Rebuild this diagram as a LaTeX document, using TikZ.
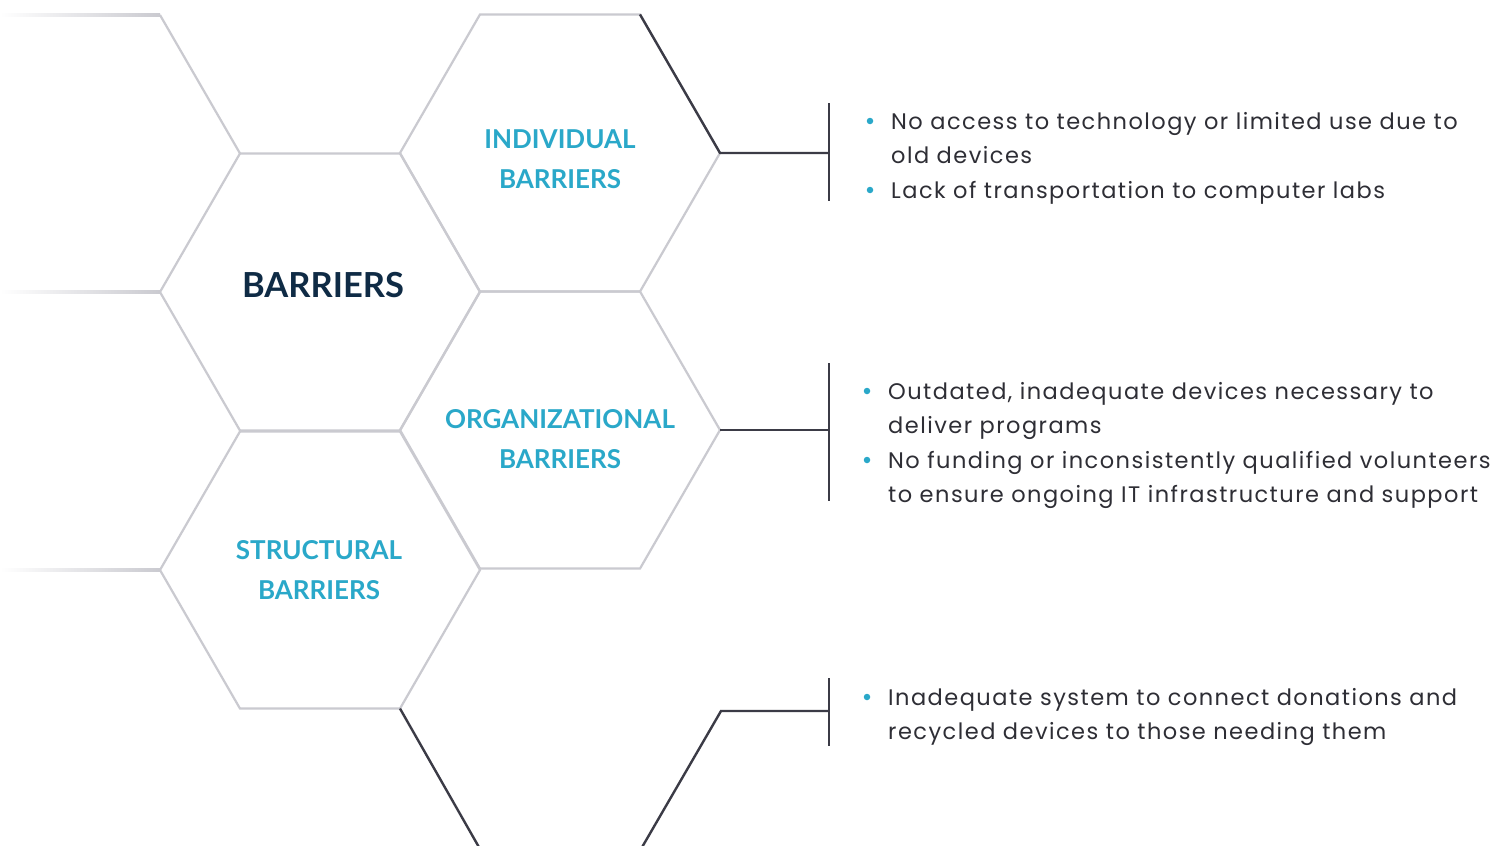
\documentclass[tikz,border=0pt]{standalone}
\usepackage{fontspec}
\setmainfont{Poppins}[LetterSpace=6.5]
\newfontfamily\headfont{Lato}
\usetikzlibrary{shapes.geometric}
\definecolor{hexgray}{HTML}{CACAD0}
\definecolor{darkline}{HTML}{3B3B46}
\definecolor{headteal}{HTML}{2AA8C9}
\definecolor{navy}{HTML}{0F2B45}
\definecolor{bodytext}{HTML}{2E2E35}
\begin{document}
\begin{tikzpicture}[x=1pt,y=-1pt,
  hexcell/.style={regular polygon, regular polygon sides=6, minimum size=320pt,
    inner sep=0pt, outer sep=0pt, draw=hexgray, line width=2.2pt},
  darkedge/.style={draw=darkline, line width=2.4pt, line join=miter},
  bracketline/.style={draw=darkline, line width=2.2pt},
  headtext/.style={font=\headfont\bfseries\fontsize{26}{30}\selectfont, text=headteal, inner sep=0pt},
  maintext/.style={font=\headfont\bfseries\fontsize{34.5}{38}\selectfont, text=navy, inner sep=0pt},
  bodyline/.style={anchor=base west, inner sep=0pt, text=bodytext, font=\fontsize{22.5}{25}\selectfont},
  bulletdot/.style={circle, fill=headteal, inner sep=0pt, minimum size=6.5pt}]
\useasboundingbox (0,0) rectangle (1505,846);
\fill[white] (0,0) rectangle (1505,846);

% fading edges on the left
\shade[left color=white, right color=hexgray] (0,13.9) rectangle (160,16.1);
\shade[left color=white, right color=hexgray] (0,290.9) rectangle (160,293.1);
\shade[left color=white, right color=hexgray] (0,568.9) rectangle (160,571.1);

% hexagon cells
\node[hexcell] (indiv) at (560,153) {};
\node[hexcell] (barr)  at (320,292) {};
\node[hexcell] (org)   at (560,430) {};
\node[hexcell] (struct) at (320,570) {};
\coordinate (tl) at (160,15);
\draw[draw=hexgray, line width=2.2pt] (tl) -- (barr.120);

% dark connectors
\coordinate (br1) at (829,153);
\coordinate (br2) at (829,430);
\coordinate (br3) at (829,711);
\coordinate (lowL) at (480,849);
\coordinate (lowR) at (641,849);
\coordinate (lowV) at (721,711);
\draw[darkedge] (indiv.60) -- (indiv.0) -- (br1);
\draw[darkedge] (org.0) -- (br2);
\draw[darkedge] (struct.-60) -- (lowL);
\draw[darkedge] (lowR) -- (lowV) -- (br3);

% brackets
\draw[bracketline] (829,103) -- (829,201);
\draw[bracketline] (829,363) -- (829,501);
\draw[bracketline] (829,678) -- (829,746);

% hexagon labels
\node[maintext] (tbarr) at (323,285) {BARRIERS};
\node[headtext] (tind1) at (560,139) {INDIVIDUAL};
\node[headtext] (tind2) at (560,179) {BARRIERS};
\node[headtext] (torg1) at (560,419) {ORGANIZATIONAL};
\node[headtext] (torg2) at (560,459) {BARRIERS};
\node[headtext] (tstr1) at (319,550) {STRUCTURAL};
\node[headtext] (tstr2) at (319,590) {BARRIERS};

% bullet lists
\node[bulletdot] (d1) at (870,121) {};
\node[bodyline] (l1) at (891,129) {No access to technology or limited use due to};
\node[bodyline] (l2) at (891,163.5) {old devices};
\node[bulletdot] (d2) at (870,190) {};
\node[bodyline] (l3) at (891,198) {Lack of transportation to computer labs};

\node[bulletdot] (d3) at (867,391) {};
\node[bodyline] (l4) at (888,399) {Outdated, inadequate devices necessary to};
\node[bodyline] (l5) at (888,433.5) {deliver programs};
\node[bulletdot] (d4) at (867,460) {};
\node[bodyline] (l6) at (888,468) {No funding or inconsistently qualified volunteers};
\node[bodyline] (l7) at (888,502.5) {to ensure ongoing IT infrastructure and support};

\node[bulletdot] (d5) at (867,697) {};
\node[bodyline] (l8) at (888,705) {Inadequate system to connect donations and};
\node[bodyline] (l9) at (888,739.5) {recycled devices to those needing them};
\end{tikzpicture}
\end{document}
